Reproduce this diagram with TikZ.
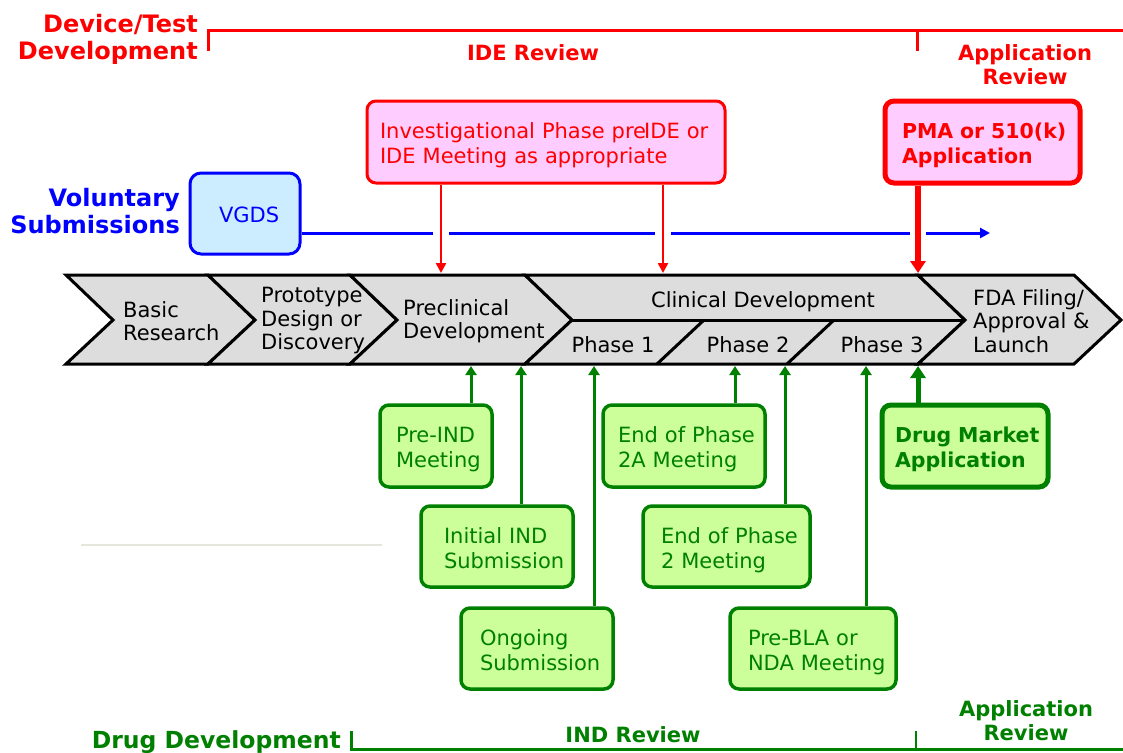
\documentclass[tikz,border=0pt]{standalone}
\usepackage{fontspec}
\setmainfont{DejaVu Sans}
\usetikzlibrary{arrows.meta}
\definecolor{cred}{RGB}{255,0,0}
\definecolor{cblue}{RGB}{0,0,255}
\definecolor{cgreen}{RGB}{0,128,0}
\definecolor{cpink}{RGB}{255,204,255}
\definecolor{clblue}{RGB}{204,236,255}
\definecolor{clgreen}{RGB}{204,255,153}
\definecolor{cgrey}{RGB}{221,221,221}
\definecolor{cfaint}{RGB}{230,230,220}
\newcommand\fs[2]{\fontsize{#1}{#2}\selectfont}
\newcommand\padt[2]{\hspace*{#1pt}\raisebox{-4pt}[\height][\depth]{\begin{tabular}[c]{@{}l@{}}#2\end{tabular}}}
\begin{document}
\begin{tikzpicture}[x=1pt,y=-1pt,
  chev/.style={fill=cgrey, draw=black, line width=3pt, line join=miter},
  chevtext/.style={anchor=west, align=left, inner sep=0pt, font=\fs{21}{23.5}, text=black},
  phasetext/.style={anchor=center, inner sep=0pt, font=\fs{21}{23.5}, text=black},
  boxbase/.style={rounded corners=9pt, inner xsep=0pt, inner ysep=0pt, align=left},
  redbox/.style={boxbase, draw=cred, fill=cpink, line width=3pt, text=cred, font=\fs{21}{25}},
  redboxb/.style={redbox, line width=5pt, font=\bfseries\fs{20.5}{25}},
  bluebox/.style={boxbase, rounded corners=11pt, draw=cblue, fill=clblue, line width=3pt, text=cblue, font=\fs{21}{25}},
  grnbox/.style={boxbase, draw=cgreen, fill=clgreen, line width=3.5pt, text=cgreen, font=\fs{21}{25}},
  grnboxb/.style={grnbox, line width=5pt, font=\bfseries\fs{20.5}{25}},
  rarr/.style={draw=cred, line width=2.5pt, -{Triangle[length=10pt,width=10pt]}},
  rarrb/.style={draw=cred, line width=5.5pt, -{Triangle[length=12pt,width=15pt]}},
  garr/.style={draw=cgreen, line width=3pt, -{Triangle[length=9pt,width=11pt]}},
  garrb/.style={draw=cgreen, line width=5pt, -{Triangle[length=12pt,width=15pt]}},
  barr/.style={draw=cblue, line width=3pt, -{Triangle[length=10pt,width=10pt]}},
  redhead/.style={inner sep=0pt, text=cred, font=\bfseries\fs{24}{27}},
  redsub/.style={inner sep=0pt, text=cred, font=\bfseries\fs{21}{24}, align=center},
  bluehead/.style={inner sep=0pt, text=cblue, font=\bfseries\fs{24}{27}},
  grnhead/.style={inner sep=0pt, text=cgreen, font=\bfseries\fs{23.5}{27}},
  grnsub/.style={inner sep=0pt, text=cgreen, font=\bfseries\fs{21}{24}, align=center},
]
\useasboundingbox (0,0) rectangle (1123,752);

% ---- top red bracket (device/test) ----
\draw[cred, line width=3pt] (208,51) -- (208,31) -- (1123,31);
\draw[cred, line width=3pt] (917,31) -- (917,51);
\node[redhead, anchor=east, align=right] (devtest) at (198,39) {Device/Test\\Development};
\node[redsub] (idereview) at (533,53) {IDE Review};
\node[redsub] (appreview) at (1025,65) {Application\\Review};

% ---- bottom green bracket (drug) ----
\draw[cgreen, line width=3pt] (351,731) -- (351,749) -- (1123,749);
\draw[cgreen, line width=2pt] (916,731) -- (916,749);
\node[grnhead, anchor=base east] (drugdev) at (341,748) {Drug Development};
\node[grnsub, anchor=base] (indreview) at (633,742) {IND Review};
\node[grnsub] (appreview2) at (1026,721) {Application\\Review};

% faint line
\draw[cfaint, line width=1.2pt] (81,545) -- (382,545);

% ---- chevrons ----
\draw[chev] (66,275) -- (208,275) -- (255,320) -- (208,364) -- (66,364) -- (113,320) -- cycle;
\draw[chev] (208,275) -- (350,275) -- (397,320) -- (350,364) -- (208,364) -- (255,320) -- cycle;
\draw[chev] (350,275) -- (525,275) -- (572,320) -- (525,364) -- (350,364) -- (397,320) -- cycle;
\draw[chev] (525,275) -- (918,275) -- (965,320) -- (918,364) -- (525,364) -- (572,320) -- cycle;
\draw[chev] (918,275) -- (1074,275) -- (1121,320) -- (1074,364) -- (918,364) -- (965,320) -- cycle;
\draw[black, line width=3pt] (572,320) -- (965,320);
\draw[black, line width=3pt] (657,364) -- (704,320);
\draw[black, line width=3pt] (787,364) -- (834,320);

\node[chevtext] (basic) at (123,321) {Basic\\Research};
\node[chevtext] (proto) at (261,321) {Prototype\\Design or\\Discovery};
\node[chevtext] (precl) at (403,321) {Preclinical\\Development};
\node[phasetext] (clin) at (763,301.5) {Clinical Development};
\node[phasetext] (ph1) at (613,345) {Phase 1};
\node[phasetext] (ph2) at (748,345) {Phase 2};
\node[phasetext] (ph3) at (882,345) {Phase 3};
\node[chevtext] (fda) at (973,321) {FDA Filing/\\Approval \&\\Launch};

% ---- voluntary submissions ----
\node[bluehead, anchor=east, align=right] (volsub) at (180,211) {Voluntary\\Submissions};
\node[bluebox, text width=110pt, minimum height=81pt] (vgds) at (245,213.5) {\padt{29}{VGDS}};
\coordinate (vend) at (990,233);
\draw[barr] (vgds.east |- vend) -- (vend);
\foreach \gx in {441,663,918} \draw[white, line width=5pt] (\gx-8,233) -- (\gx+8,233);

% ---- device boxes ----
\node[redbox, text width=358pt, minimum height=82pt] (ide) at (546,142) {\padt{13}{Investigational Phase pre\kern-2ptIDE or\\IDE Meeting as appropriate}};
\node[redboxb, text width=195pt, minimum height=82pt] (pma) at (982.5,142) {\padt{17}{PMA or 510(k)\\Application}};
\coordinate (t1) at (441,273);
\coordinate (t2) at (663,273);
\coordinate (t3) at (918,273);
\draw[rarr] (ide.south -| t1) -- (t1);
\draw[rarr] (ide.south -| t2) -- (t2);
\draw[rarrb] (pma.south -| t3) -- (t3);

% ---- drug boxes ----
\node[grnbox, text width=112pt, minimum height=82pt] (preind) at (436,446) {\padt{16}{Pre-IND\\Meeting}};
\node[grnbox, text width=152pt, minimum height=81pt] (initial) at (497,546.5) {\padt{23}{Initial IND\\Submission}};
\node[grnbox, text width=152pt, minimum height=81pt] (ongoing) at (537,648.5) {\padt{19}{Ongoing\\Submission}};
\node[grnbox, text width=162pt, minimum height=82pt] (eop2a) at (684,446) {\padt{15}{End of Phase\\2A Meeting}};
\node[grnbox, text width=167pt, minimum height=81pt] (eop2) at (726.5,546.5) {\padt{18}{End of Phase\\2 Meeting}};
\node[grnbox, text width=166pt, minimum height=81pt] (prebla) at (813,648.5) {\padt{18}{Pre-BLA or\\NDA Meeting}};
\node[grnboxb, text width=166pt, minimum height=82pt] (dma) at (965,446) {\padt{13}{Drug Market\\Application}};

\coordinate (b1) at (471,366);
\coordinate (b2) at (521,366);
\coordinate (b3) at (594,366);
\coordinate (b4) at (735,366);
\coordinate (b5) at (785,366);
\coordinate (b6) at (866,366);
\coordinate (b7) at (918,366);
\draw[garr] (preind.north -| b1) -- (b1);
\draw[garr] (initial.north -| b2) -- (b2);
\draw[garr] (ongoing.north -| b3) -- (b3);
\draw[garr] (eop2a.north -| b4) -- (b4);
\draw[garr] (eop2.north -| b5) -- (b5);
\draw[garr] (prebla.north -| b6) -- (b6);
\draw[garrb] (dma.north -| b7) -- (b7);
\end{tikzpicture}
\end{document}
